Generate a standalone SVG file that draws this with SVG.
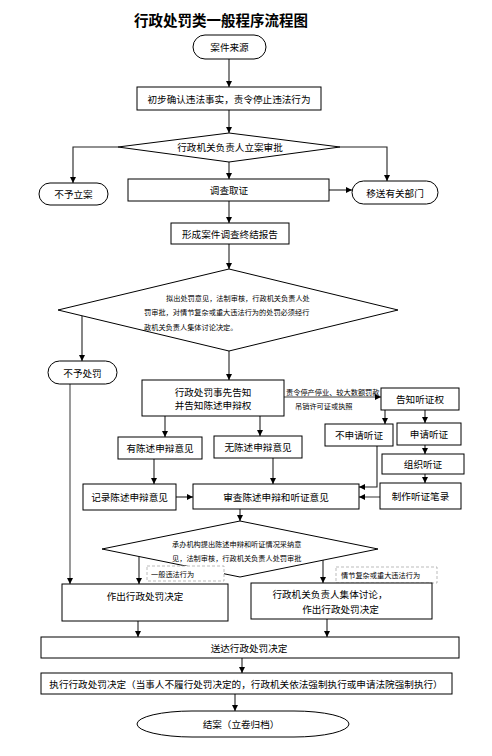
<svg xmlns="http://www.w3.org/2000/svg" width="492" height="756" viewBox="0 0 492 756">
<defs>
<style>
.n{fill:#fff;stroke:#000;stroke-width:1}
.t{font-family:"Noto Sans CJK SC","Noto Sans CJK JP",sans-serif;font-size:9.6px;fill:#000;text-anchor:middle;dominant-baseline:central}
.s{font-family:"Noto Sans CJK SC","Noto Sans CJK JP",sans-serif;font-size:7.2px;fill:#000;dominant-baseline:central}
.c{fill:none;stroke:#222;stroke-width:1.1;marker-end:url(#a)}
.g{fill:none;stroke:#808080;stroke-width:1.6;marker-end:url(#a)}
.d{fill:#fff;stroke:#aaa;stroke-width:0.8;stroke-dasharray:3,2}
</style>
<marker id="a" viewBox="0 0 6 6" refX="6" refY="3" markerWidth="6" markerHeight="6" markerUnits="userSpaceOnUse" orient="auto">
<path d="M0,0 L6,3 L0,6 z" fill="#000"/>
</marker>
</defs>
<rect width="492" height="756" fill="#fff"/>
<text x="221" y="19" font-family="'Noto Sans CJK SC',sans-serif" font-size="14.5" font-weight="bold" text-anchor="middle" dominant-baseline="central">行政处罚类一般程序流程图</text>

<g id="connectors">
<path class="c" d="M229,59 V87"/>
<path class="c" d="M229,110 V133"/>
<path class="c" d="M118,147 H73 V183"/>
<path class="c" d="M340,147 H387 V181"/>
<path class="c" d="M229,162 V179"/>
<path class="c" d="M329,190 H352"/>
<path class="c" d="M229,201 V223"/>
<path class="c" d="M229,244 V269"/>
<path class="c" d="M82,316 V361"/>
<path class="g" d="M70,384 V584"/>
<path class="c" d="M229,351 V380"/>
<path class="g" d="M284,397 H381"/>
<path class="c" d="M385,410 V424"/>
<path class="c" d="M425,410 V423"/>
<path class="c" d="M425,445 V454"/>
<path class="c" d="M425,474 V483"/>
<path class="c" d="M377,446 V487 H359"/>
<path class="g" d="M380,497 H359"/>
<path class="c" d="M165,416 V437"/>
<path class="c" d="M260,416 V436"/>
<path class="c" d="M154,459 V484"/>
<path class="c" d="M273,458 V484"/>
<path class="c" d="M176,497 H193"/>
<path class="c" d="M240,509 V521"/>
<path class="c" d="M139,557 V584"/>
<path class="c" d="M323,560 V583"/>
<path class="c" d="M138,621 V637"/>
<path class="c" d="M327,619 V637"/>
<path class="c" d="M242,658 V673"/>
<path class="c" d="M235,694 V711"/>
<text class="s" x="286" y="391.5" font-size="6.8">责令停产停业、较大数额罚款</text>
<text class="s" x="295" y="406" font-size="6.8">吊销许可证或执照</text>
</g>

<g id="n1"><rect class="n" x="193" y="35" width="73" height="24" rx="12"/><text class="t" x="229.5" y="47">案件来源</text></g>
<g id="n2"><rect class="n" x="137" y="87" width="184" height="23"/><text class="t" x="229" y="98.5">初步确认违法事实，责令停止违法行为</text></g>
<g id="n3"><polygon class="n" points="229,133 340,147 229,162 118,147"/><text class="t" x="230" y="147">行政机关负责人立案审批</text></g>
<g id="n4"><rect class="n" x="39" y="183" width="69" height="22" rx="11"/><text class="t" x="73.5" y="194">不予立案</text></g>
<g id="n5"><rect class="n" x="128" y="179" width="201" height="22"/><text class="t" x="229" y="190">调查取证</text></g>
<g id="n6"><rect class="n" x="352" y="181" width="86" height="23" rx="11.5"/><text class="t" x="395" y="192.5">移送有关部门</text></g>
<g id="n7"><rect class="n" x="171" y="223" width="118" height="21"/><text class="t" x="230" y="233.5">形成案件调查终结报告</text></g>
<g id="n8"><polygon class="n" points="229,269 398,310 229,351 58,310"/>
<text class="s" x="166" y="298">拟出处罚意见，法制审核，行政机关负责人处</text>
<text class="s" x="144" y="312">罚审批，对情节复杂或重大违法行为的处罚必须经行</text>
<text class="s" x="144" y="327">政机关负责人集体讨论决定。</text></g>
<g id="n9"><rect class="n" x="48" y="361" width="69" height="23" rx="11.5"/><text class="t" x="82.5" y="372.5">不予处罚</text></g>
<g id="n10"><rect class="n" x="142" y="380" width="142" height="36"/><text class="t" x="213" y="392">行政处罚事先告知</text><text class="t" x="213" y="405">并告知陈述申辩权</text></g>
<g id="n11"><rect class="n" x="381" y="388" width="78" height="22"/><text class="t" x="420" y="399">告知听证权</text></g>
<g id="n12"><rect class="n" x="325" y="424" width="68" height="22"/><text class="t" x="359" y="435">不申请听证</text></g>
<g id="n13"><rect class="n" x="397" y="423" width="64" height="22"/><text class="t" x="429" y="434">申请听证</text></g>
<g id="n14"><rect class="n" x="382" y="454" width="82" height="20"/><text class="t" x="423" y="464">组织听证</text></g>
<g id="n15"><rect class="n" x="380" y="483" width="81" height="26"/><text class="t" x="420.5" y="496">制作听证笔录</text></g>
<g id="n16"><rect class="n" x="118" y="437" width="84" height="22"/><text class="t" x="160" y="448">有陈述申辩意见</text></g>
<g id="n17"><rect class="n" x="214" y="436" width="88" height="22"/><text class="t" x="258" y="447">无陈述申辩意见</text></g>
<g id="n18"><rect class="n" x="83" y="484" width="93" height="26"/><text class="t" x="129.5" y="497">记录陈述申辩意见</text></g>
<g id="n19"><rect class="n" x="193" y="484" width="166" height="25"/><text class="t" x="276" y="496.5">审查陈述申辩和听证意见</text></g>
<g id="n20"><polygon class="n" points="240,521 378,549 240,577 102,549"/>
<text class="s" x="172" y="544">承办机构提出陈述申辩和听证情况采纳意</text>
<text class="s" x="172" y="558">见，法制审核，行政机关负责人处罚审批</text></g>
<g id="l1"><rect class="d" x="147" y="566" width="77" height="15"/><text class="s" x="151" y="574">一般违法行为</text></g>
<g id="l2"><rect class="d" x="336" y="567" width="101" height="16"/><text class="s" x="341" y="575">情节复杂或重大违法行为</text></g>
<g id="n21"><rect class="n" x="62" y="584" width="166" height="37"/><text class="t" x="145" y="596">作出行政处罚决定</text></g>
<g id="n22"><rect class="n" x="251" y="583" width="181" height="36"/><text class="t" x="330" y="594">行政机关负责人集体讨论，</text><text class="t" x="340.5" y="609">作出行政处罚决定</text></g>
<g id="n23"><rect class="n" x="41" y="637" width="418" height="21"/><text class="t" x="249" y="647.5">送达行政处罚决定</text></g>
<g id="n24"><rect class="n" x="41" y="673" width="411" height="21"/><text class="t" x="246" y="684" font-size="9.4">执行行政处罚决定（当事人不履行处罚决定的，行政机关依法强制执行或申请法院强制执行）</text></g>
<g id="n25"><rect class="n" x="137" y="711" width="212" height="26" rx="55" ry="13"/><text class="t" x="241" y="724">结案（立卷归档）</text></g>
</svg>
